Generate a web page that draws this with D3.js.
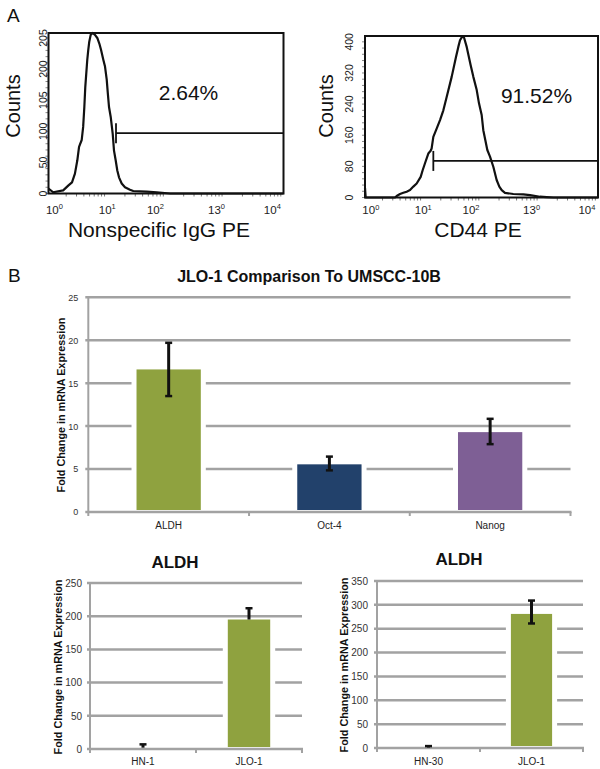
<!DOCTYPE html>
<html><head><meta charset="utf-8">
<script src="https://cdn.jsdelivr.net/npm/d3@7"></script>
<style>
body{margin:0;background:#fff}
svg{display:block}
text{font-family:"Liberation Sans",Arial,Helvetica,sans-serif}
</style>
</head><body>
<svg id="c" width="600" height="769"></svg>
<script>
// ---------- Panel A data (flow cytometry histograms) ----------
const igTickValues = [0, 50, 100, 150, 200, 250];
const igTickLabels = ["0", "50", "100", "105", "200", "205"];
const cdTickValues = [0, 80, 160, 240, 320, 400];
const cdTickLabels = ["0", "80", "160", "240", "320", "400"];
const xTickBases = ["10", "10", "10", "13", "10"];
const xTickExps = ["0", "1", "2", "0", "4"];
const xTickDecades = [0.1, 1.0, 1.82, 2.86, 3.81];

// log10 fluorescence, counts
const igLog10 = [0, 0.08, 0.25, 0.34, 0.40, 0.45, 0.49, 0.52, 0.565, 0.59, 0.61, 0.626, 0.643, 0.66, 0.677, 0.694, 0.718, 0.752, 0.791, 0.831, 0.865, 0.894, 0.933, 0.962, 0.991, 1.008, 1.03, 1.059, 1.093, 1.115, 1.144, 1.171, 1.2, 1.246, 1.302, 1.387, 1.443, 1.671, 1.842, 2.07, 4];
const igCounts = [8, 2, 5, 13, 18, 32, 53, 75, 86, 107, 139, 171, 193, 215, 231, 244, 255, 258, 255, 250, 241, 231, 215, 204, 183, 163, 139, 123, 96, 69, 53, 37, 26, 16, 10, 6, 4, 3, 2, 0, 0];
const igGateStart = 1.149, igGateLevel = 97, igPercent = "2.64%";

const cdLog10 = [0, 0.012, 0.515, 0.544, 0.601, 0.658, 0.715, 0.773, 0.83, 0.887, 0.956, 0.99, 1.03, 1.087, 1.127, 1.144, 1.173, 1.23, 1.288, 1.345, 1.402, 1.488, 1.562, 1.602, 1.631, 1.671, 1.70, 1.746, 1.814, 1.86, 1.918, 1.957, 2.003, 2.031, 2.066, 2.10, 2.146, 2.203, 2.26, 2.306, 2.347, 2.403, 2.546, 2.718, 2.833, 3.004, 3.119, 3.233, 4];
const cdCounts = [25, 0, 0, 4, 9, 12, 15, 19, 28, 36, 53, 70, 88, 113, 120, 126, 156, 177, 199, 224, 258, 310, 361, 387, 404, 414, 411, 387, 340, 310, 276, 242, 212, 173, 147, 122, 105, 79, 45, 28, 19, 12, 9, 8, 6, 2, 1, 0, 0];
const cdGateStart = 1.173, cdGateLevel = 94, cdPercent = "91.52%";

// ---------- Panel B data (bar charts) ----------
const mainCats = ["ALDH", "Oct-4", "Nanog"];
const mainVals = [16.6, 5.55, 9.3];
const mainErrHi = [19.7, 6.45, 10.85];
const mainErrLo = [13.5, 4.85, 7.9];
const mainColors = ["#8fa23f", "#22416b", "#7e5f95"];
const mainTicks = [0, 5, 10, 15, 20, 25];

const hn1Cats = ["HN-1", "JLO-1"];
const hn1Vals = [2, 195];
const hn1ErrHi = [7, 212];
const hn1ErrLo = [2, 195];
const hn1Ticks = [0, 50, 100, 150, 200, 250];

const hn30Cats = ["HN-30", "JLO-1"];
const hn30Vals = [1, 281];
const hn30ErrHi = [4, 309];
const hn30ErrLo = [1, 261];
const hn30Ticks = [0, 50, 100, 150, 200, 250, 300, 350];

const barGreen = "#8fa23f";

const svg = d3.select("#c");

// ---------- Flow panel ----------
function flowPanel(o) {
  const g = svg.append("g");
  const x = d3.scaleLinear().domain([0, 4]).range([o.x0, o.x1]);
  const y = d3.scaleLinear().domain([0, o.ymax]).range([o.y0, o.y1]);
  const minor = [];
  for (let dec = 0; dec < 4; dec++) for (let m = 2; m <= 9; m++) minor.push(dec + Math.log10(m));
  g.selectAll(".mx").data(minor).join("line")
    .attr("x1", d => x(d)).attr("x2", d => x(d))
    .attr("y1", o.y0).attr("y2", o.y0 + 3)
    .attr("stroke", "#777").attr("stroke-width", 1);
  const step = o.tickVals[1] / 5;
  const my = d3.range(0, o.ymax, step);
  g.selectAll(".my").data(my).join("line")
    .attr("x1", o.x0 - 3).attr("x2", o.x0)
    .attr("y1", d => y(d)).attr("y2", d => y(d))
    .attr("stroke", "#888").attr("stroke-width", 1);
  const line = d3.line().x(d => x(d[0])).y(d => y(d[1]));
  g.append("path").datum(o.logs.map((v, i) => [v, o.counts[i]]))
    .attr("d", line).attr("fill", "none").attr("stroke", "#111")
    .attr("stroke-width", 2.2).attr("stroke-linejoin", "round");
  g.append("rect").attr("x", o.x0).attr("y", o.y1)
    .attr("width", o.x1 - o.x0).attr("height", o.y0 - o.y1)
    .attr("fill", "none").attr("stroke", "#111").attr("stroke-width", 2);
  g.append("line").attr("x1", x(o.gate)).attr("x2", o.x1)
    .attr("y1", y(o.gateLevel)).attr("y2", y(o.gateLevel))
    .attr("stroke", "#111").attr("stroke-width", 1.8);
  g.append("line").attr("x1", x(o.gate)).attr("x2", x(o.gate))
    .attr("y1", y(o.gateLevel) - 10).attr("y2", y(o.gateLevel) + 10)
    .attr("stroke", "#111").attr("stroke-width", 1.8);
  g.selectAll(".yl").data(o.tickVals).join("text")
    .attr("transform", d => `translate(${o.ylx},${y(d)}) rotate(-90)`)
    .attr("text-anchor", "middle").attr("font-size", 10.5).attr("fill", "#222")
    .text((d, i) => o.tickLabels[i]);
  const xl = g.selectAll(".xl").data(xTickDecades).join("text")
    .attr("x", d => x(d)).attr("y", o.xly)
    .attr("text-anchor", "middle").attr("font-size", 11.5).attr("fill", "#222");
  xl.append("tspan").text((d, i) => xTickBases[i]);
  xl.append("tspan").attr("font-size", 7.5).attr("dy", -4.5).text((d, i) => xTickExps[i]);
  g.append("text").attr("x", o.titleX).attr("y", 236.5).attr("text-anchor", "middle")
    .attr("font-size", 21).attr("fill", "#111").text(o.title);
  g.append("text").attr("transform", `translate(${o.countsX},106) rotate(-90)`)
    .attr("text-anchor", "middle").attr("font-size", 20).attr("fill", "#111").text("Counts");
  g.append("text").attr("x", o.pctX).attr("y", o.pctY).attr("text-anchor", "middle")
    .attr("font-size", 21).attr("fill", "#111").text(o.pct);
}

flowPanel({x0: 48.5, x1: 283.5, y0: 193.5, y1: 33, ymax: 258,
  tickVals: igTickValues, tickLabels: igTickLabels,
  logs: igLog10, counts: igCounts, gate: igGateStart, gateLevel: igGateLevel,
  ylx: 46.5, xly: 213.5, title: "Nonspecific IgG PE", titleX: 159, countsX: 20,
  pct: igPercent, pctX: 188.5, pctY: 100});

flowPanel({x0: 365, x1: 598, y0: 197.5, y1: 36, ymax: 415,
  tickVals: cdTickValues, tickLabels: cdTickLabels,
  logs: cdLog10, counts: cdCounts, gate: cdGateStart, gateLevel: cdGateLevel,
  ylx: 353, xly: 214, title: "CD44 PE", titleX: 478, countsX: 333,
  pct: cdPercent, pctX: 536.5, pctY: 103});

svg.append("text").attr("x", 7).attr("y", 22).attr("font-size", 19).attr("fill", "#111").text("A");
svg.append("text").attr("x", 8).attr("y", 282).attr("font-size", 19).attr("fill", "#111").text("B");

// ---------- Bar chart ----------
function barChart(o) {
  const g = svg.append("g");
  const x = d3.scaleBand().domain(o.cats).range([o.xl, o.xr]).padding(0);
  const y = d3.scaleLinear().domain([0, o.max]).range([o.yb, o.yt]);
  const grid = "#a2a2a2";
  g.selectAll(".grid").data(o.ticks.filter(t => t > 0)).join("line")
    .attr("x1", o.xl - 3).attr("x2", o.xr)
    .attr("y1", d => y(d)).attr("y2", d => y(d))
    .attr("stroke", grid).attr("stroke-width", 2.5);
  g.append("line").attr("x1", o.xl).attr("x2", o.xl)
    .attr("y1", y(o.max) - 1).attr("y2", o.yb)
    .attr("stroke", grid).attr("stroke-width", 2);
  const bw = x.bandwidth() * 0.4;
  const bx = d => x(d) + (x.bandwidth() - bw) / 2;
  const data = o.cats.map((c, i) => ({c, v: o.vals[i], hi: o.hi[i], lo: o.lo[i], col: o.colors[i]}));
  g.selectAll(".halo").data(data).join("rect")
    .attr("x", d => bx(d.c) - 5).attr("width", bw + 10)
    .attr("y", d => y(d.v)).attr("height", d => o.yb - y(d.v))
    .attr("fill", "#fff");
  g.selectAll(".bar").data(data).join("rect")
    .attr("x", d => bx(d.c)).attr("width", bw)
    .attr("y", d => y(d.v)).attr("height", d => Math.max(0, o.yb - 2 - y(d.v)))
    .attr("fill", d => d.col);
  g.append("line").attr("x1", o.xl - 3).attr("x2", o.xr + 1)
    .attr("y1", o.yb).attr("y2", o.yb).attr("stroke", grid).attr("stroke-width", 2.5);
  const bounds = o.cats.map(c => x(c)).concat([o.xr]);
  g.selectAll(".bt").data(bounds).join("line")
    .attr("x1", d => d).attr("x2", d => d).attr("y1", o.yb).attr("y2", o.yb + 4)
    .attr("stroke", grid).attr("stroke-width", 2);
  const ax = d3.axisLeft(y).tickValues(o.ticks).tickSize(0).tickPadding(o.ypad);
  const ag = g.append("g").attr("transform", `translate(${o.xl},0)`).call(ax);
  ag.select(".domain").remove();
  ag.selectAll("text").attr("font-size", o.tickFont).attr("fill", "#333")
    .attr("font-family", '"Liberation Sans",Arial,sans-serif');
  const bx2 = d3.axisBottom(x).tickSize(0).tickPadding(0);
  const bg = g.append("g").attr("transform", `translate(0,${o.xly - 8})`).call(bx2);
  bg.select(".domain").remove();
  bg.selectAll("text").attr("font-size", 10).attr("fill", "#222")
    .attr("font-family", '"Liberation Sans",Arial,sans-serif');
  const cx = d => bx(d.c) + bw / 2;
  g.selectAll(".ev").data(data).join("line")
    .attr("x1", cx).attr("x2", cx).attr("y1", d => y(d.hi)).attr("y2", d => y(d.lo))
    .attr("stroke", "#111").attr("stroke-width", 3);
  g.selectAll(".ct").data(data).join("line")
    .attr("x1", d => cx(d) - 3.5).attr("x2", d => cx(d) + 3.5)
    .attr("y1", d => y(d.hi)).attr("y2", d => y(d.hi))
    .attr("stroke", "#111").attr("stroke-width", 2.5);
  g.selectAll(".cb").data(data.filter(d => d.lo < d.v)).join("line")
    .attr("x1", d => cx(d) - 3.5).attr("x2", d => cx(d) + 3.5)
    .attr("y1", d => y(d.lo)).attr("y2", d => y(d.lo))
    .attr("stroke", "#111").attr("stroke-width", 2.5);
  g.append("text").attr("x", o.titleX).attr("y", o.titleY).attr("text-anchor", "middle")
    .attr("font-size", o.titleFont).attr("font-weight", "bold").attr("fill", "#111").text(o.title);
  g.append("text").attr("transform", `translate(${o.ytX},${o.ytY}) rotate(-90)`)
    .attr("text-anchor", "middle").attr("font-size", 10.8).attr("font-weight", "bold")
    .attr("fill", "#111").text("Fold Change in mRNA Expression");
}

barChart({cats: mainCats, vals: mainVals, hi: mainErrHi, lo: mainErrLo, colors: mainColors,
  ticks: mainTicks, max: 25, xl: 88.3, xr: 570.5, yb: 512, yt: 297.3,
  ypad: 10, tickFont: 9, xly: 530,
  title: "JLO-1 Comparison To UMSCC-10B", titleX: 309, titleY: 282, titleFont: 16,
  ytX: 65, ytY: 405});

barChart({cats: hn1Cats, vals: hn1Vals, hi: hn1ErrHi, lo: hn1ErrLo, colors: [barGreen, barGreen],
  ticks: hn1Ticks, max: 250, xl: 90, xr: 302, yb: 749, yt: 583,
  ypad: 8, tickFont: 10, xly: 766,
  title: "ALDH", titleX: 175, titleY: 568, titleFont: 17,
  ytX: 62, ytY: 667});

barChart({cats: hn30Cats, vals: hn30Vals, hi: hn30ErrHi, lo: hn30ErrLo, colors: [barGreen, barGreen],
  ticks: hn30Ticks, max: 350, xl: 377, xr: 583, yb: 748, yt: 581,
  ypad: 9, tickFont: 10, xly: 766,
  title: "ALDH", titleX: 459, titleY: 565, titleFont: 17,
  ytX: 348, ytY: 665});
</script>
</body></html>
